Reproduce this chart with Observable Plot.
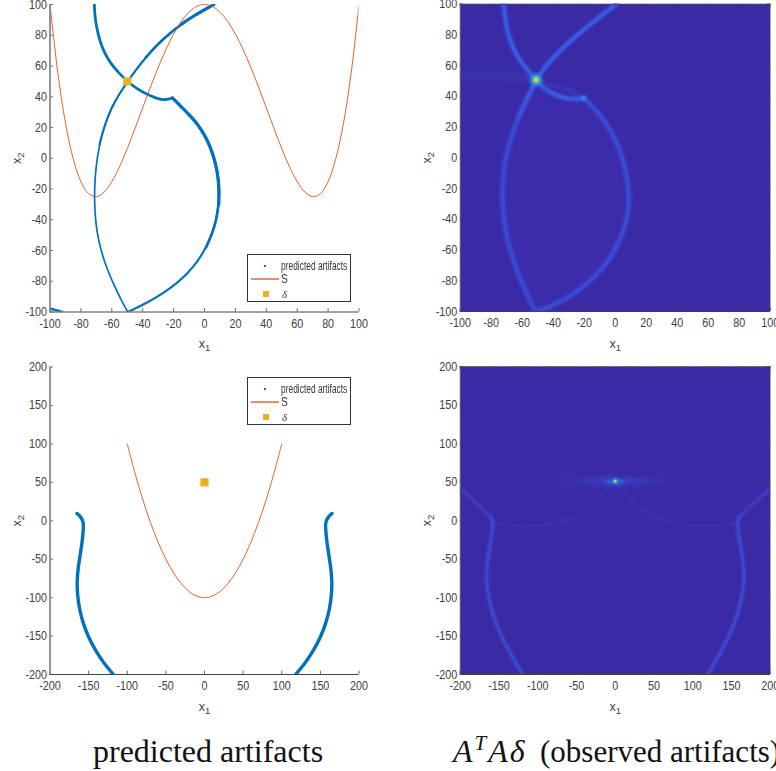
<!DOCTYPE html>
<html><head><meta charset="utf-8">
<script src="https://cdn.jsdelivr.net/npm/d3@7"></script>
<script src="https://cdn.jsdelivr.net/npm/@observablehq/plot@0.6"></script>
<style>
html,body{margin:0;padding:0;background:#fff;overflow:hidden}
#page{position:relative;width:776px;height:771px;overflow:hidden}
.panel{position:absolute}
.panel svg{background:transparent;overflow:visible;font-family:"Liberation Sans",sans-serif}
.soft{filter:blur(.4px)}
.g1{filter:blur(.8px)}
.g2{filter:blur(1.6px)}
.g3{filter:blur(3px)}
.legend{position:absolute;left:247px;width:102px;height:46px;border:1px solid #333;background:#fff;font-family:"Liberation Sans",sans-serif;font-size:12px;color:#333;filter:blur(.25px)}
.legend span,.legend i{position:absolute;line-height:12px;white-space:nowrap;transform-origin:0 50%}
.title{position:absolute;font-family:"Liberation Serif",serif;font-size:32px;color:#111;white-space:nowrap;line-height:32px}
</style></head><body><div id="page"></div>
<script>
// ---------- data ----------
const ticks100 = [-100,-80,-60,-40,-20,0,20,40,60,80,100];
const ticks200 = [-200,-150,-100,-50,0,50,100,150,200];

const quarticS = [[-100,100],[-95,56],[-90,23],[-85,-0.2],[-80,-15.2],[-75,-23],[-70,-25],[-65,-22],[-60,-15.2],[-55,-5.5],[-50,6.2],[-45,19.3],[-40,32.8],[-35,46.3],[-30,59],[-25,70.7],[-20,80.8],[-15,89],[-10,95],[-5,98.8],[0,100],[5,98.8],[10,95],[15,89],[20,80.8],[25,70.7],[30,59],[35,46.3],[40,32.8],[45,19.3],[50,6.2],[55,-5.5],[60,-15.2],[65,-22],[70,-25],[75,-23],[80,-15.2],[85,-0.2],[90,23],[95,56],[100,100]];
const parabolaS = [[-100,100],[-90,62],[-80,28],[-70,-2],[-60,-28],[-50,-50],[-40,-68],[-30,-82],[-20,-92],[-10,-98],[0,-100],[10,-98],[20,-92],[30,-82],[40,-68],[50,-50],[60,-28],[70,-2],[80,28],[90,62],[100,100]];

const deltaTop = [[-50,50]];
const deltaBottom = [[0,50]];

// predicted artifacts, top
const predToCusp = [[-71.3,100],[-71,93],[-70,86],[-68,77],[-65,69],[-61,62],[-56,56],[-50,50],[-44,45.4],[-37,41.3],[-30.5,38.7],[-25,37.8],[-20.8,39.3]];
const predRightArc = [[-20.8,39.3],[-16,34.5],[-11,29.5],[-6,24],[-2,18.5],[2,11.5],[5,4],[7.3,-4],[8.8,-12],[9.5,-21],[9.2,-30],[7.7,-40],[5,-49],[1,-58],[-4,-66.5],[-10.5,-74.5],[-18,-81.5],[-27,-88],[-37,-94],[-49.7,-100]];
const predLeftArc = [[-49.7,-100],[-54,-92],[-59,-81.5],[-63.5,-71],[-67,-60],[-69.7,-48],[-71,-35],[-71.3,-21],[-70.4,-6],[-68,9],[-64.5,22],[-60,33.5],[-55,42],[-49.7,50],[-44,58],[-38,65.5],[-31,73.5],[-23,80.8],[-15,87.2],[-7,92.7],[6.1,100]];
const predCorner = [[-100,-97.8],[-92,-100]];

// predicted artifacts, bottom
const predBottomLeft = [[-165,9.5],[-160,5],[-157,-1],[-156.5,-8],[-158,-25],[-161,-45],[-163.7,-62],[-165,-78],[-164.7,-95],[-162,-115],[-157,-134],[-150,-152],[-141,-169],[-130,-186],[-118,-200]];
const predBottomRight = [[165,9.5],[160,5],[157,-1],[156.5,-8],[158,-25],[161,-45],[163.7,-62],[165,-78],[164.7,-95],[162,-115],[157,-134],[150,-152],[141,-169],[130,-186],[118,-200]];

// observed artifacts, top
const obsToCusp = [[-72,100],[-71,90],[-69,80],[-66,71],[-61.3,63],[-56,56.3],[-51,50.7],[-46,45],[-39,40.8],[-30,38.2],[-24,38],[-20.4,38.8]];
const obsLip = [[-51,50.7],[-40,47],[-30,44.5],[-20.4,38.8]];
const obsRight = [[-20.4,38.8],[-13,32],[-6,23],[0,12.5],[4.5,1],[7.5,-11],[9,-24],[8.5,-36],[5.5,-48],[0.5,-59],[-7,-71],[-17,-81.5],[-28,-89.5],[-39,-95.7],[-50.5,-100]];
const obsLeft = [[-51.6,-100],[-56,-91],[-61,-80],[-66,-66],[-70,-52],[-72.3,-38],[-73,-23],[-72,-6],[-68.5,10],[-63,25],[-57,38.5],[-51,50.7],[-44,61],[-34.4,71],[-23.7,80.5],[-10.8,91.2],[1,100]];
const obsWing = [[-100,53],[-80,53.5],[-65,52.5],[-51,50.7]];
const obsPeak = [[-51,50.7]];
const obsKink = [[-20.4,38.8]];

// observed artifacts, bottom
const obsBottomLeft = [[-119.6,-200],[-137.6,-168.8],[-152,-140],[-161,-112],[-165.5,-88],[-166.5,-70],[-164.3,-47],[-160,-24],[-157.9,-6],[-158.5,1],[-161.3,5.6]];
const obsBottomRight = [[119.5,-200],[137.6,-168.8],[152,-140],[161,-112],[165.5,-88],[166.5,-70],[164.3,-47],[160,-24],[157.9,-6],[158.5,1],[161.3,5.6]];
const obsShoulderLeft = [[-161.3,5.6],[-176.3,20],[-200,41.6]];
const obsShoulderRight = [[161.3,5.6],[176.3,20],[200,41.6]];
const obsInnerLeft = [[0,51],[-9,43],[-17,32],[-32,15],[-50,3],[-90,-7],[-120,-8.5],[-157,-4]];
const obsInnerRight = [[0,51],[9,43],[17,32],[32,15],[50,3],[90,-7],[120,-8.5],[157,-4]];
const obsHorizontal = [[-70,50.5],[-40,51],[-20,51],[-10,51],[0,51],[10,51],[20,51],[40,51],[70,50.5]];
const obsVertical = [[0,100],[0,80],[0,51],[0,35]];
const obsPeakBottom = [[0,51]];

// ---------- helpers ----------
const BLUE="#0072BD", RED="#D95319", GOLD="#EDB120", BG="#3A2AA5", AX="#404040";
const px=d=>d[0], py=d=>d[1];
const line=(a,o)=>Plot.line(a,{x:px,y:py,curve:"basis",clip:true,...o});
const art=(a,w)=>line(a,{stroke:BLUE,strokeWidth:w,className:"soft"});
const glow=(a,color,w,cls,op=1)=>line(a,{stroke:color,strokeWidth:w,className:cls,strokeOpacity:op,strokeLinecap:"round"});

function axes(ticks,box){
  const lo=ticks[0],hi=ticks[ticks.length-1],t=(hi-lo)*0.011;
  const m=[
    Plot.axisX(ticks,{anchor:"bottom",tickSize:0,tickPadding:7,fontSize:12.5,fill:AX,label:"x1",labelAnchor:"center",labelArrow:"none",labelOffset:36,tickFormat:d=>String(d)}),
    Plot.axisY(ticks,{anchor:"left",tickSize:0,tickPadding:3,fontSize:12.5,fill:AX,label:"x2",labelAnchor:"center",labelArrow:"none",labelOffset:38,tickFormat:d=>String(d)}),
    Plot.ruleX(ticks,{y1:lo,y2:lo+t,stroke:AX,strokeWidth:.8}),
    Plot.ruleY(ticks,{x1:lo,x2:lo+t,stroke:AX,strokeWidth:.8})
  ];
  if(box) m.push(
    Plot.ruleX(ticks,{y1:hi,y2:hi-t,stroke:AX,strokeWidth:.8}),
    Plot.ruleY(ticks,{x1:hi,x2:hi-t,stroke:AX,strokeWidth:.8}),
    Plot.ruleX([hi],{stroke:"#555",strokeWidth:.6}),
    Plot.ruleY([hi],{stroke:"#555",strokeWidth:.6})
  );
  m.push(Plot.ruleX([lo],{stroke:box?"#555":"#8a8a8a",strokeWidth:box?.8:1.8}),
         Plot.ruleY([lo],{stroke:"#444",strokeWidth:1}));
  return m;
}

const page=document.getElementById("page");

function panel(left,top,mL,mR,mT,mB,ticks,marks,box){
  const lo=ticks[0],hi=ticks[ticks.length-1];
  const p=Plot.plot({width:388,height:360,marginLeft:mL,marginRight:mR,marginTop:mT,marginBottom:mB,
    x:{domain:[lo,hi],ticks:ticks,label:null},y:{domain:[lo,hi],ticks:ticks,label:null},
    marks:[...marks,...axes(ticks,box)]});
  const d=document.createElement("div");d.className="panel";d.style.left=left+"px";d.style.top=top+"px";
  d.appendChild(p);page.appendChild(d);
  p.querySelectorAll("text").forEach(t=>{
    const s=t.textContent.trim();
    if(s==="x1"||s==="x2"){
      const tx=t.querySelector("tspan")||t;
      tx.textContent="x";
      const sub=document.createElementNS("http://www.w3.org/2000/svg","tspan");
      sub.textContent=s[1];sub.setAttribute("font-size","9.5");sub.setAttribute("dy","3");
      tx.appendChild(sub);
    } else {
      const n=t.getComputedTextLength();
      if(n>0){t.setAttribute("textLength",n*.86);t.setAttribute("lengthAdjust","spacingAndGlyphs");}
    }
  });
}

// top-left
panel(0,0,49.5,29.5,4,48.5,ticks100,[
  art(predLeftArc,1.7),
  art(predLeftArc.slice(9),2),
  art(predLeftArc.slice(15),2.5),
  art(predLeftArc.slice(18),3),
  art(predRightArc,2.1),
  art(predRightArc.slice(0,14),2.6),
  art(predRightArc.slice(0,11),3.2),
  art(predToCusp,2.8),
  art(predCorner,2.6),
  line(quarticS,{stroke:RED,strokeWidth:.9,curve:"catmull-rom",className:"soft"}),
  Plot.dot(deltaTop,{x:px,y:py,symbol:"square",r:4.6,fill:GOLD})
],false);

// top-right
panel(388,0,71.7,6.3,3.5,49,ticks100,[
  Plot.frame({fill:BG,stroke:null}),
  line([...obsRight,...obsLeft.slice(0,12),...obsToCusp.slice(6)],{fill:"#4232bc",fillOpacity:.3,stroke:null,curve:"linear"}),
  glow(obsWing,"#3f44cc",6,"g3",.5),
  glow(obsLip,"#3f4fdc",2.5,"g2",.55),
  glow(obsLeft,"#3c4cd8",5,"g2",.8),glow(obsRight,"#3c4cd8",5,"g2",.8),
  glow(obsToCusp,"#3c55e0",5,"g2",.85),
  glow(obsLeft.slice(9),"#3c58e0",4,"g2",.5),
  glow(obsLeft,"#3d5ce6",1.6,"g1",.6),glow(obsRight,"#3d5ce6",1.6,"g1",.75),
  glow(obsToCusp,"#3a70f0",1.8,"g1",.9),
  glow(obsLeft.slice(9),"#3a66ea",1.6,"g1",.45),
  glow(obsLeft.slice(10),"#3a70f0",1.8,"g1",.55),
  Plot.dot(obsKink,{x:px,y:py,r:2.4,fill:"#3f80f0",className:"g1"}),
  Plot.dot(obsPeak,{x:px,y:py,r:6,fill:"#2a90ea",className:"g2"}),
  Plot.dot(obsPeak,{x:px,y:py,r:3.6,fill:"#38c8b0",className:"g1"}),
  Plot.dot(obsPeak,{x:px,y:py,r:2.4,symbol:"square",fill:"#fbc82c",className:"soft"})
],true);

// bottom-left
panel(0,360,49.5,29.5,6.5,46,ticks200,[
  art(predBottomLeft,3.4),art(predBottomRight,3.4),
  line(parabolaS,{stroke:RED,strokeWidth:.9,curve:"catmull-rom",className:"soft"}),
  Plot.dot(deltaBottom,{x:px,y:py,symbol:"square",r:4.6,fill:GOLD})
],false);

// bottom-right
panel(388,360,71.7,6.3,6,46,ticks200,[
  Plot.frame({fill:BG,stroke:null}),
  glow(obsHorizontal,"#3e3ec4",6,"g3",.45),
  glow(obsHorizontal.slice(1,8),"#3d44d0",5,"g3",.5),
  glow(obsHorizontal.slice(2,7),"#3a54dc",3.6,"g3",.6),
  glow(obsVertical,"#3e3ec4",3,"g3",.5),
  glow(obsInnerLeft,"#3d42c8",1.8,"g2",.6),glow(obsInnerRight,"#3d42c8",1.8,"g2",.6),
  glow(obsShoulderLeft,"#3c4cd6",2.4,"g2",.85),glow(obsShoulderRight,"#3c4cd6",2.4,"g2",.85),
  glow(obsBottomLeft,"#3c4cd6",3.6,"g2",.75),glow(obsBottomRight,"#3c4cd6",3.6,"g2",.75),
  glow(obsBottomLeft,"#3d66ea",1.1,"g1",.85),glow(obsBottomRight,"#3d66ea",1.1,"g1",.85),
  glow(obsHorizontal.slice(3,6),"#3a74ee",2.6,"g2",.9),
  Plot.dot(obsPeakBottom,{x:px,y:py,r:3,fill:"#2a8cea",className:"g1"}),
  Plot.dot(obsPeakBottom,{x:px,y:py,r:1.7,fill:"#55d090",className:"soft"}),
  Plot.dot(obsPeakBottom,{x:px,y:py,r:.9,fill:"#fbd02c"})
],true);

// legends
function legend(top){
  const l=document.createElement("div");l.className="legend";l.style.top=top+"px";
  l.innerHTML=`<span style="left:33px;top:5px;transform:scaleX(.7)">predicted artifacts</span>
  <span style="left:33px;top:18px;transform:scaleX(.85)">S</span>
  <i style="left:34px;top:33px;font-family:'Liberation Serif',serif;font-size:11px">δ</i>
  <div style="position:absolute;left:15.5px;top:9.5px;width:2px;height:2px;background:${BLUE}"></div>
  <div style="position:absolute;left:3px;top:23px;width:28px;height:1.5px;background:${RED};opacity:.65"></div>
  <div style="position:absolute;left:15px;top:36px;width:5.5px;height:5.5px;background:${GOLD}"></div>`;
  page.appendChild(l);
}
legend(254);legend(377);

// titles
function title(left,html){
  const t=document.createElement("div");t.className="title";t.style.left=left+"px";t.style.top="735px";t.innerHTML=html;page.appendChild(t);
}
title(93,"predicted artifacts");
title(453,'<i style="display:inline-block;width:87px;letter-spacing:2px">A<sup style="font-size:21px;line-height:0;vertical-align:12px">T</sup>Aδ</i><span style="font-size:31px">(observed artifacts)</span>');
</script></body></html>
